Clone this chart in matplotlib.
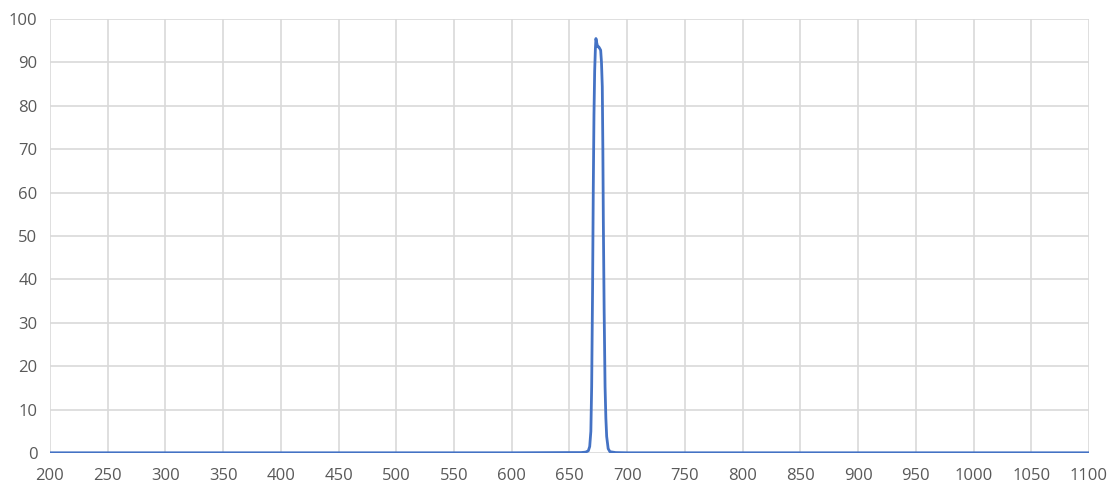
import matplotlib
matplotlib.use('Agg')
import matplotlib.pyplot as plt

# transmission spectrum
wavelength = [200, 400, 600, 650, 660, 664, 666.3, 667.5, 668.5, 669.2, 670.0, 670.6,
              671.2, 671.8, 672.4, 672.9, 673.6, 674.4, 675.3, 676.2, 677.0, 677.7,
              678.4, 678.9, 679.3, 680.0, 680.8, 681.5, 682.2, 683.5, 685, 690, 700,
              800, 1000, 1100]
transmission = [0.05, 0.05, 0.05, 0.1, 0.1, 0.2, 0.5, 1.5, 5, 15.3, 38, 61,
                78, 88, 93, 95.5, 94.5, 93.6, 93.6, 93.2, 92.8, 90,
                84.4, 70, 53.7, 33, 15.3, 8, 3.8, 1.0, 0.3, 0.1, 0.05,
                0.05, 0.05, 0.05]

xticks = list(range(200, 1101, 50))
yticks = list(range(0, 101, 10))

fig = plt.figure(figsize=(11.15, 4.93), dpi=100)
ax = fig.add_axes([50/1115, 1 - 453/493, (1089-50)/1115, (453-19)/493])

ax.plot(wavelength, transmission, color='#4472C4', linewidth=2.0, zorder=3)

ax.set_xlim(200, 1100)
ax.set_ylim(0, 100)
ax.set_xticks(xticks)
ax.set_yticks(yticks)
ax.grid(True, color='#D9D9D9', linewidth=1.2)
ax.set_axisbelow(True)
for s in ax.spines.values():
    s.set_visible(False)
ax.tick_params(length=0, labelsize=12, labelcolor='#595959')
ax.tick_params(axis='x', pad=11)
ax.tick_params(axis='y', pad=9)
for lbl in ax.get_xticklabels() + ax.get_yticklabels():
    lbl.set_family('Open Sans')

fig.savefig('out.png', dpi=100)
